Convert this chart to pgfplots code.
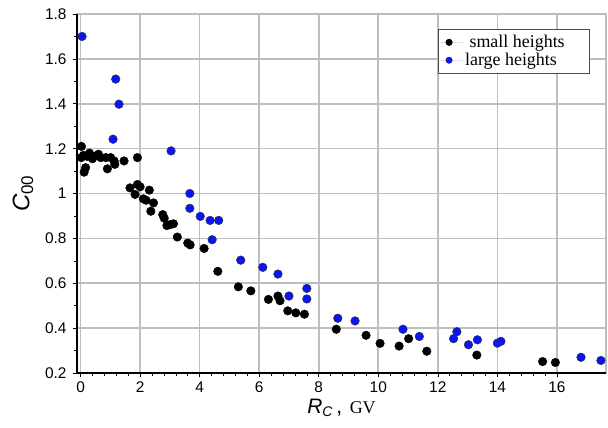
\documentclass[border=0pt]{standalone}
\usepackage{pgfplots}
\pgfplotsset{compat=1.18}
\usetikzlibrary{calc}
\usepackage{fontspec}
\setmainfont{Liberation Serif}
\newfontfamily\arial{Liberation Sans}
\definecolor{ptblue}{RGB}{10,20,250}
\definecolor{gridgray}{RGB}{190,190,190}

\begin{document}
\begin{tikzpicture}
\begin{axis}[
  scale only axis, width=529bp, height=359bp,
  xmin=-0.12, xmax=17.65, ymin=0.2, ymax=1.8,
  xtick={0,2,...,16}, ytick={0.2,0.4,...,1.8},
  minor x tick num=4, minor y tick num=1,
  xtick pos=lower, ytick pos=left,
  tick align=outside, major tick length=4bp, minor tick length=2.5bp,
  tick style={black, line width=0.6pt},
  xmajorgrids=true, ymajorgrids=true,
  grid style={gridgray, line width=1.6pt},
  axis line style={gridgray, line width=1.6pt},
  ticklabel style={font=\arial\fontsize{15.5}{17}\selectfont},
  yticklabel style={xshift=-3bp},
  /pgf/number format/assume math mode=true,
  xticklabel style={yshift=-1bp},
  xlabel={{\arial\fontsize{21}{24}\selectfont\itshape R\textsubscript{\fontsize{14}{16}\selectfont C}\upshape\,,}\ \ \ {\fontsize{18}{20}\selectfont GV}},
  ylabel={\arial\fontsize{24}{26}\selectfont\itshape C\upshape\textsubscript{\fontsize{17}{18}\selectfont 00}},
  ylabel style={yshift=5bp},
  legend style={at={(0.682,0.958)}, anchor=north west, draw=black!70, line width=0.6pt,
    font=\fontsize{18}{20}\selectfont, inner xsep=3bp, inner ysep=4bp, row sep=0bp,
    nodes={inner xsep=2bp}},
  legend cell align=left,
  legend image code/.code={%
    \path[draw=none] (0bp,0bp) -- (22bp,0bp);
    \draw[#1, only marks, mark size=3.2bp] plot coordinates {(8bp,0bp)};},
  clip=false,
]
% horizontal grid lines, drawn first so the marks sit on top
\pgfplotsinvokeforeach{0.4,0.6,0.8,1,1.2,1.4,1.6,1.8}{
  \draw[gridgray, line width=1.6pt] (axis cs:-0.12,#1) -- (axis cs:17.65,#1);
}
\addplot[only marks, mark=*, mark size=4.3bp, draw=black, fill=black] coordinates {
(0.03,1.21)(0.02,1.16)(0.1,1.17)(0.23,1.165)(0.4,1.155)(0.56,1.17)(0.68,1.16)
(0.85,1.16)(1.01,1.16)(1.13,1.145)(1.15,1.13)(1.46,1.145)(1.91,1.16)(0.17,1.115)
(0.12,1.095)(0.9,1.11)(0.3,1.18)(0.6,1.175)
(1.66,1.025)(1.91,1.04)(2.0,1.03)(1.83,0.996)(2.11,0.976)(2.2,0.97)(2.31,1.015)
(2.45,0.958)(2.36,0.921)(2.76,0.906)(2.81,0.89)(2.9,0.857)(3.0,0.861)(3.12,0.865)
(3.25,0.806)(3.6,0.779)(3.68,0.771)(4.15,0.755)(4.61,0.653)(5.3,0.584)(5.72,0.566)
(6.31,0.528)(6.63,0.543)(6.7,0.522)(6.96,0.477)(7.23,0.468)(7.52,0.462)(8.59,0.395)
(9.59,0.368)(10.06,0.332)(10.7,0.32)(11.02,0.353)(11.63,0.297)(13.31,0.28)
(15.52,0.251)(15.95,0.247)};
\addlegendentry{\ small heights\hspace*{20bp}}
\addplot[only marks, mark=*, mark size=4.3bp, draw=black!80, fill=ptblue, line width=0.5pt] coordinates {
(0.05,1.70)(1.18,1.51)(1.29,1.398)(1.09,1.242)(3.04,1.19)(3.67,1.0)(3.67,0.934)
(4.02,0.898)(4.35,0.88)(4.64,0.88)(4.42,0.794)(5.38,0.703)(6.12,0.671)(6.63,0.641)
(7.0,0.543)(7.6,0.577)(7.6,0.53)(8.64,0.444)(9.22,0.432)(10.83,0.395)(11.38,0.363)
(12.53,0.353)(12.64,0.384)(13.03,0.326)(13.33,0.348)(14.0,0.333)(14.12,0.341)
(16.81,0.27)(17.48,0.256)};
\addlegendentry{large heights}
\draw[black, line width=1.3pt] (rel axis cs:0,1) -- (rel axis cs:0,0) -- (rel axis cs:1,0);
\end{axis}
\path ($(current axis.south west)+(-77bp,-55bp)$) rectangle ($(current axis.north east)+(2bp,14bp)$);
\end{tikzpicture}
\end{document}
